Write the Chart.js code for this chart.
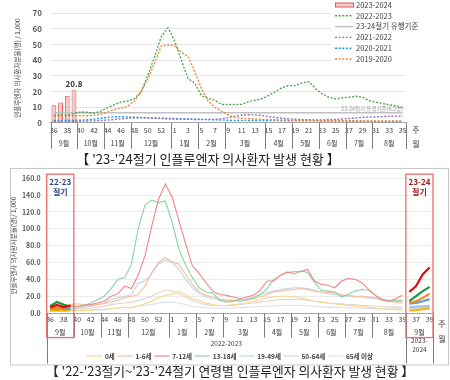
<!DOCTYPE html>
<html><head><meta charset="utf-8">
<script src="https://cdn.jsdelivr.net/npm/chart.js@4.4.0/dist/chart.umd.min.js"></script>
<style>
html,body{margin:0;padding:0;background:#fff;}
#wrap{position:relative;width:450px;height:380px;overflow:hidden;background:#fff;}
#c1{position:absolute;left:0;top:0;width:450px;height:168px;}
#c2{position:absolute;left:0;top:168px;width:450px;height:212px;}
</style></head><body>
<div id="wrap">
<canvas id="c1" width="450" height="168"></canvas>
<canvas id="c2" width="450" height="212"></canvas>
</div>
<script>
const FONT = "'Noto Sans CJK KR','Noto Sans',sans-serif";
Chart.defaults.font.family = FONT;

// ---------------- Chart 1 data ----------------
const weeks1 = ['36','37','38','39','40','41','42','43','44','45','46','47','48','49','50','51','52','53','1','2','3','4','5','6','7','8','9','10','11','12','13','14','15','16','17','18','19','20','21','22','23','24','25','26','27','28','29','30','31','32','33','34','35'];
const months1 = ['9월','10월','11월','12월','1월','2월','3월','4월','5월','6월','7월','8월'];
const monthWeeks1 = [4,4,4,6,4,4,6,4,4,4,4,5];
const season2324 = [11.3,13.1,17.3,20.8];
const season2223 = [4.7,5.1,4.9,6.0,7.0,6.8,6.3,7.5,9.6,11.6,13.3,13.9,15.5,19.5,30.5,42.0,55.0,60.7,52.5,40.1,28.3,25.5,17.4,15.6,14.5,11.8,11.7,11.7,11.9,13.5,14.5,15.4,17.5,19.8,22.5,23.8,23.8,25.5,26.3,22.0,18.5,16.4,15.4,16.0,16.4,17.0,16.5,14.2,13.2,12.4,11.6,10.8,9.8];
const season2122 = [1.0,1.0,1.0,1.1,1.1,1.2,1.3,1.5,1.8,2.2,2.6,3.0,3.2,3.3,3.2,3.0,2.8,2.6,2.5,2.4,2.3,2.2,2.1,2.1,2.2,2.6,3.4,4.3,4.9,5.2,5.1,4.7,4.1,3.5,3.0,2.6,2.3,2.1,2.0,1.9,1.9,2.0,2.2,2.5,2.8,3.2,3.5,3.7,3.8,4.0,4.2,4.3,4.4];
const season2021 = [1.6,1.6,1.7,1.7,1.8,2.0,2.4,3.0,3.6,3.9,3.9,3.8,3.6,3.4,3.2,3.1,3.0,2.9,2.7,2.6,2.5,2.4,2.3,2.2,2.0,1.8,1.7,1.6,1.6,1.6,1.5,1.5,1.5,1.5,1.4,1.4,1.4,1.3,1.3,1.3,1.2,1.2,1.2,1.2,1.1,1.1,1.1,1.0,1.0,1.0,1.0,0.9,0.9];
const season1920 = [4.4,4.5,4.5,4.6,4.5,4.6,4.8,5.5,7.0,8.5,9.5,10.5,14.0,20.0,28.0,38.0,49.1,49.8,49.4,45.0,42.5,33.0,22.0,14.0,10.0,7.5,5.0,3.6,3.0,2.8,2.5,2.3,2.2,2.0,1.9,1.8,1.8,1.7,1.7,1.6,1.6,1.5,1.5,1.4,1.4,1.4,1.3,1.3,1.3,1.2,1.2,1.2,1.2];
const threshold2324 = 6.5;
const seasonLabels = ['2023-2024','2022-2023','23-24절기 유행기준','2021-2022','2020-2021','2019-2020'];
const title1 = "【 '23-'24절기 인플루엔자 의사환자 발생 현황 】";
const yTitle1 = '인플루엔자 의사환자분율(명) / 1,000';
const thresholdText = '23-24절기 유행기준(6.5명)';

// ---------------- Chart 2 data ----------------
const weeks2 = ['36','37','38','39','40','41','42','43','44','45','46','47','48','49','50','51','52','53','1','2','3','4','5','6','7','8','9','10','11','12','13','14','15','16','17','18','19','20','21','22','23','24','25','26','27','28','29','30','31','32','33','34','35','36','37','38','39'];
const months2 = ['9월','10월','11월','12월','1월','2월','3월','4월','5월','6월','7월','8월','9월'];
const monthWeeks2 = [4,4,4,6,4,4,6,4,4,4,4,5,4];
const ageGroups = ['0세','1-6세','7-12세','13-18세','19-49세','50-64세','65세 이상'];
const age0 = [3,3.5,3,3.5, 3,3,3.5,4,4,5,6,7,6,8, 11,14,18,21,22,26,22,17,15,12, 10,9,9,10,11,12,14,16,18,19, 20,20,19,18,16,14,13,12,11,10, 9,8,8,7,6,5,4.5,4,3.5, 3,3.5,4.5,5.5];
const age1to6 = [5.5,6.5,6,10, 11,10,9,10,11,13,15,18,20,22, 32,48,60,66,61,58,46,34,25,21, 19,17,15,15,14,15,17,19,22,25, 26,27,28,29,28,26,25,24,24,22, 21,20,20,19,18,16,14,13,12, 12,14,18,23];
const age7to12 = [6.5,9.5,7,8.5, 8,9,10,12,14,20,23,32,29,45, 68,103,135,153,138,110,82,56,47,36, 26,22,21,19,17,19,21,27,38,38, 45,48,49,49,52,38,34,33,30,38, 41,40,36,28,21,16,14,17,21, 25,32,46,54];
const age13to18 = [8,13,10,7.5, 7,9,12,16,20,29,40,42,58,100, 128,134,131,133,108,76,57,42,30,25, 24,15,13,14,15,16,18,22,29,40, 45,49,46,50,48,37,27,26,25,19, 22,26,28,27,21,15,14,15,15, 14,20,26,31];
const age19to49 = [5,5.5,5,5, 6,7,8,10,12,16,18,20,22,35, 38,47,58,63,60,52,40,30,23,19, 17,16,15,15,16,17,19,22,24,26, 28,29,30,30,29,27,25,23,22,21, 20,19,19,18,17,16,15,14,13, 11,12,14,16.5];
const age50to64 = [4.5,5,4.5,4.5, 5,5,6,7,8,10,11,12,13,15, 17,20,24,27,26,23,19,15,12,10, 9,9,9,9,10,11,12,13,14,15, 16,16,16,16,15,14,13,12,11,11, 10,10,9,9,8,8,7,7,7, 7,7.5,8,8.5];
const age65plus = [2.5,3,2.5,3, 3,3,3.5,4,4.5,5,6,6.5,7,8, 9,10,12,13,13,12,10,8,7,6, 6,6,6,6,6.5,7,7.5,8,8,8.5, 9,9,9,9,8.5,8,7.5,7,7,6.5, 6,6,5.5,5.5,5,5,5,5,5, 5.5,6,6.5,7];
const yearLabels2 = ['2022-2023','2023-','2024'];
const seasonBoxLabels = [['22-23','절기'],['23-24','절기']];
const title2 = "【 '22-'23절기~'23-'24절기 연령별 인플루엔자 의사환자 발생 현황 】";
const yTitle2 = '인플루엔자 의사환자분율(명)/ 1,000';

// ---------------- Chart 1 ----------------
const dotted = [2, 1.6];
function line(ctx, x1, y1, x2, y2) { ctx.beginPath(); ctx.moveTo(x1, y1); ctx.lineTo(x2, y2); ctx.stroke(); }

const decor1 = {
  id: 'decor1',
  afterDraw(chart) {
    const {ctx, chartArea: ca, scales: {x, y}} = chart;
    const step = x.getPixelForValue(1) - x.getPixelForValue(0);
    const edge = i => x.getPixelForValue(i) - step / 2;
    const ay = ca.bottom;
    ctx.save();
    ctx.textAlign = 'center'; ctx.textBaseline = 'middle';
    ctx.font = `7px ${FONT}`; ctx.fillStyle = '#404040';
    weeks1.forEach((w, i) => { if (i % 2 === 0) ctx.fillText(w, x.getPixelForValue(i), ay + 7); });
    ctx.strokeStyle = '#7f7f7f'; ctx.lineWidth = 1;
    let s = 0;
    months1.forEach((m, k) => {
      const e = s + monthWeeks1[k];
      const xl = Math.round(edge(s)) + 0.5, xr = edge(e);
      line(ctx, xl, ay, xl, ay + 26);
      ctx.fillText(m, (edge(s) + xr) / 2, ay + 20);
      s = e;
    });
    line(ctx, Math.round(edge(s)) + 0.5, ay, Math.round(edge(s)) + 0.5, ay + 26);
    ctx.font = `8px ${FONT}`;
    ctx.fillText('주', ca.right + 10, ay + 7);
    ctx.fillText('월', ca.right + 10, ay + 21);
    const bi = season2324.length - 1;
    ctx.font = `bold 8px ${FONT}`; ctx.fillStyle = '#333';
    ctx.fillText(season2324[bi].toFixed(1), x.getPixelForValue(bi), y.getPixelForValue(season2324[bi]) - 6);
    ctx.font = `5.5px ${FONT}`; ctx.fillStyle = '#9a9a9a'; ctx.textAlign = 'right';
    ctx.fillText(thresholdText, ca.right - 3, y.getPixelForValue(threshold2324) - 3.5);
    ctx.fillStyle = '#fff'; ctx.fillRect(331, 0, 96, 64);
    ctx.textAlign = 'left';
    chart.data.datasets.forEach((d, k) => {
      const yy = 5 + k * 10.8;
      if (d.type === 'bar') {
        ctx.fillStyle = d.backgroundColor; ctx.fillRect(335, yy - 2, 18, 4);
        ctx.strokeStyle = d.borderColor; ctx.lineWidth = 1; ctx.setLineDash([]);
        ctx.strokeRect(335.5, yy - 2, 18, 4);
      } else {
        ctx.strokeStyle = d.borderColor; ctx.lineWidth = d.borderWidth; ctx.setLineDash(d.borderDash || []);
        line(ctx, 335, yy, 353, yy);
        ctx.setLineDash([]);
      }
      ctx.font = `7.5px ${FONT}`; ctx.fillStyle = '#404040';
      ctx.fillText(d.label, 356, yy);
    });
    ctx.restore();
  }
};

new Chart(document.getElementById('c1'), {
  type: 'bar',
  data: {
    labels: weeks1,
    datasets: [
      {type: 'bar', label: seasonLabels[0], data: weeks1.map((w, i) => i < season2324.length ? season2324[i] : null),
       backgroundColor: '#f6c8c8', borderColor: '#d65c5c', borderWidth: 1, borderSkipped: false,
       categoryPercentage: 0.8, barPercentage: 0.9, order: 10},
      {type: 'line', label: seasonLabels[1], data: season2223, borderColor: '#4ea84e', borderWidth: 1.4, borderDash: dotted, pointRadius: 0, order: 1},
      {type: 'line', label: seasonLabels[2], data: weeks1.map(() => threshold2324), borderColor: '#c0c0c0', borderWidth: 1.5, pointRadius: 0, order: 6},
      {type: 'line', label: seasonLabels[3], data: season2122, borderColor: '#8e72b8', borderWidth: 1.4, borderDash: dotted, pointRadius: 0, order: 3},
      {type: 'line', label: seasonLabels[4], data: season2021, borderColor: '#1e9fe2', borderWidth: 1.4, borderDash: dotted, pointRadius: 0, order: 4},
      {type: 'line', label: seasonLabels[5], data: season1920, borderColor: '#f0863a', borderWidth: 1.4, borderDash: dotted, pointRadius: 0, order: 2}
    ]
  },
  options: {
    responsive: false, animation: false, devicePixelRatio: 1,
    layout: {padding: {left: 10, right: 44, top: 5, bottom: 0}},
    plugins: {
      legend: {display: false}, tooltip: {enabled: false},
      title: {display: true, text: title1, position: 'bottom', color: '#222', font: {size: 13, weight: 'normal'}, padding: {top: 3, bottom: 1}}
    },
    scales: {
      x: {grid: {display: false}, ticks: {display: false}, border: {color: '#a6a6a6'},
          afterFit: s => { s.height = 25.5; }},
      y: {min: 0, max: 70, ticks: {stepSize: 10, padding: 8.5, color: '#595959', font: {size: 8, weight: 'bold'}},
          grid: {color: '#e6e6e6', drawTicks: false}, border: {display: false},
          title: {display: true, text: yTitle1, color: '#404040', font: {size: 6.5}, padding: {top: 4, bottom: 0}},
          afterFit: s => { s.width = 40.5; }}
    }
  },
  plugins: [decor1]
});

// ---------------- Chart 2 ----------------
const ageSeries = [age0, age1to6, age7to12, age13to18, age19to49, age50to64, age65plus];
const thinColors = ['#f7d88a', '#f6bf9c', '#f08686', '#8dd2a4', '#c2d4ec', '#e6d3cc', '#dbe1e9'];
const boldColors = ['#f2b705', '#f28a20', '#e00d0d', '#1e9a3a', '#6b9ad6', '#aec2e0', '#cbd6e6'];
const thinOrder = [23, 22, 20, 21, 24, 25, 26];
const boldOrder = [4, 2, 0, 1, 3, 5, 6];
const firstSeasonEnd = 3, lastSeasonStart = 53;
const datasets2 = [];
ageSeries.forEach((arr, k) => {
  datasets2.push({label: ageGroups[k], data: arr.map((v, i) => (i >= firstSeasonEnd && i < lastSeasonStart) ? v : null),
    borderColor: thinColors[k], borderWidth: 1.1, pointRadius: 0, order: thinOrder[k], legendItem: true});
  datasets2.push({label: ageGroups[k] + ' 22-23', data: arr.map((v, i) => i <= firstSeasonEnd ? v : null),
    borderColor: boldColors[k], borderWidth: 2.2, pointRadius: 0, order: boldOrder[k]});
  datasets2.push({label: ageGroups[k] + ' 23-24', data: arr.map((v, i) => i >= lastSeasonStart ? v : null),
    borderColor: boldColors[k], borderWidth: 2.2, pointRadius: 0, order: boldOrder[k]});
});

const decor2 = {
  id: 'decor2',
  afterDraw(chart) {
    const {ctx, chartArea: ca, scales: {x, y}} = chart;
    const step = x.getPixelForValue(1) - x.getPixelForValue(0);
    const edge = i => x.getPixelForValue(i) - step / 2;
    const ay = ca.bottom;
    ctx.save();
    ctx.strokeStyle = '#c8c8c8'; ctx.lineWidth = 1;
    ctx.strokeRect(10.5, 0.5, 438, 196.5);
    ctx.textAlign = 'center'; ctx.textBaseline = 'middle';
    ctx.font = `7px ${FONT}`; ctx.fillStyle = '#404040';
    weeks2.forEach((w, i) => { if (i % 2 === 0) ctx.fillText(w, x.getPixelForValue(i), ay + 6.5); });
    ctx.strokeStyle = '#7f7f7f';
    let s = 0;
    months2.forEach((m, k) => {
      const e = s + monthWeeks2[k];
      const xl = Math.round(edge(s)) + 0.5;
      const long = (s === 0 || s === lastSeasonStart);
      line(ctx, xl, ay, xl, ay + (long ? 50.5 : 24.5));
      ctx.fillText(m, (edge(s) + edge(e)) / 2, ay + 19);
      s = e;
    });
    const xe = Math.round(edge(s)) + 0.5;
    line(ctx, xe, ay, xe, ay + 50.5);
    ctx.font = `6.5px ${FONT}`;
    ctx.fillText(yearLabels2[0], (edge(0) + edge(lastSeasonStart)) / 2, ay + 30);
    const cx2 = (edge(lastSeasonStart) + edge(s)) / 2;
    ctx.fillText(yearLabels2[1], cx2, ay + 27.5);
    ctx.fillText(yearLabels2[2], cx2, ay + 36);
    ctx.font = `8px ${FONT}`;
    ctx.fillText('주', ca.right + 9, ay + 10.5);
    ctx.fillText('월', ca.right + 9, ay + 25.5);
    ctx.strokeStyle = '#ee6b6b'; ctx.lineWidth = 1.3;
    const boxes = [[0, firstSeasonEnd + 1], [lastSeasonStart, weeks2.length]];
    const boxColors = ['#2f4a8a', '#a01818'];
    boxes.forEach(([a, b], k) => {
      const x1 = edge(a), x2 = edge(b);
      ctx.strokeRect(x1, ca.top - 4, x2 - x1, ay + 24.5 - (ca.top - 4));
      ctx.font = `bold 8px ${FONT}`; ctx.fillStyle = boxColors[k];
      ctx.fillText(seasonBoxLabels[k][0], (x1 + x2) / 2, ca.top + 4);
      ctx.fillText(seasonBoxLabels[k][1], (x1 + x2) / 2, ca.top + 14);
    });
    ctx.font = `bold 6.5px ${FONT}`;
    const items = chart.data.datasets.filter(d => d.legendItem);
    const lineLen = 15, gapA = 3;
    const widths = items.map(d => ctx.measureText(d.label).width);
    const startX = 87, endX = 373;
    const used = widths.reduce((a, w) => a + lineLen + gapA + w, 0);
    const gap = (endX - startX - used) / (items.length - 1);
    let lx = startX;
    const ly = ay + 43;
    ctx.textAlign = 'left';
    items.forEach((d, k) => {
      ctx.strokeStyle = d.borderColor; ctx.lineWidth = 1.2;
      line(ctx, lx, ly, lx + lineLen, ly);
      ctx.fillStyle = '#404040';
      ctx.fillText(d.label, lx + lineLen + gapA, ly);
      lx += lineLen + gapA + widths[k] + gap;
    });
    ctx.restore();
  }
};

new Chart(document.getElementById('c2'), {
  type: 'line',
  data: {labels: weeks2, datasets: datasets2},
  options: {
    responsive: false, animation: false, devicePixelRatio: 1,
    layout: {padding: {left: 10, right: 0, top: 8, bottom: 0}},
    plugins: {
      legend: {display: false}, tooltip: {enabled: false},
      title: {display: true, text: title2, position: 'bottom', color: '#222', font: {size: 12.8, weight: 'normal'}, padding: {top: 3, bottom: 1}}
    },
    scales: {
      x: {offset: true, grid: {display: false}, ticks: {display: false}, border: {color: '#a6a6a6'},
          afterFit: s => { s.height = 47.6; }},
      y: {min: 0, max: 160, ticks: {stepSize: 20, padding: 6, color: '#595959', font: {size: 7, weight: 'bold'}, callback: v => v.toFixed(1)},
          grid: {color: '#ececec', drawTicks: false}, border: {display: false},
          title: {display: true, text: yTitle2, color: '#404040', font: {size: 6.5}, padding: {top: 0, bottom: 0}},
          afterFit: s => { s.width = 36.7; }},
      y2: {position: 'right', display: true, grid: {display: false}, ticks: {display: false}, border: {display: false},
           afterFit: s => { s.width = 17; }}
    }
  },
  plugins: [decor2]
});
</script>
</body></html>
